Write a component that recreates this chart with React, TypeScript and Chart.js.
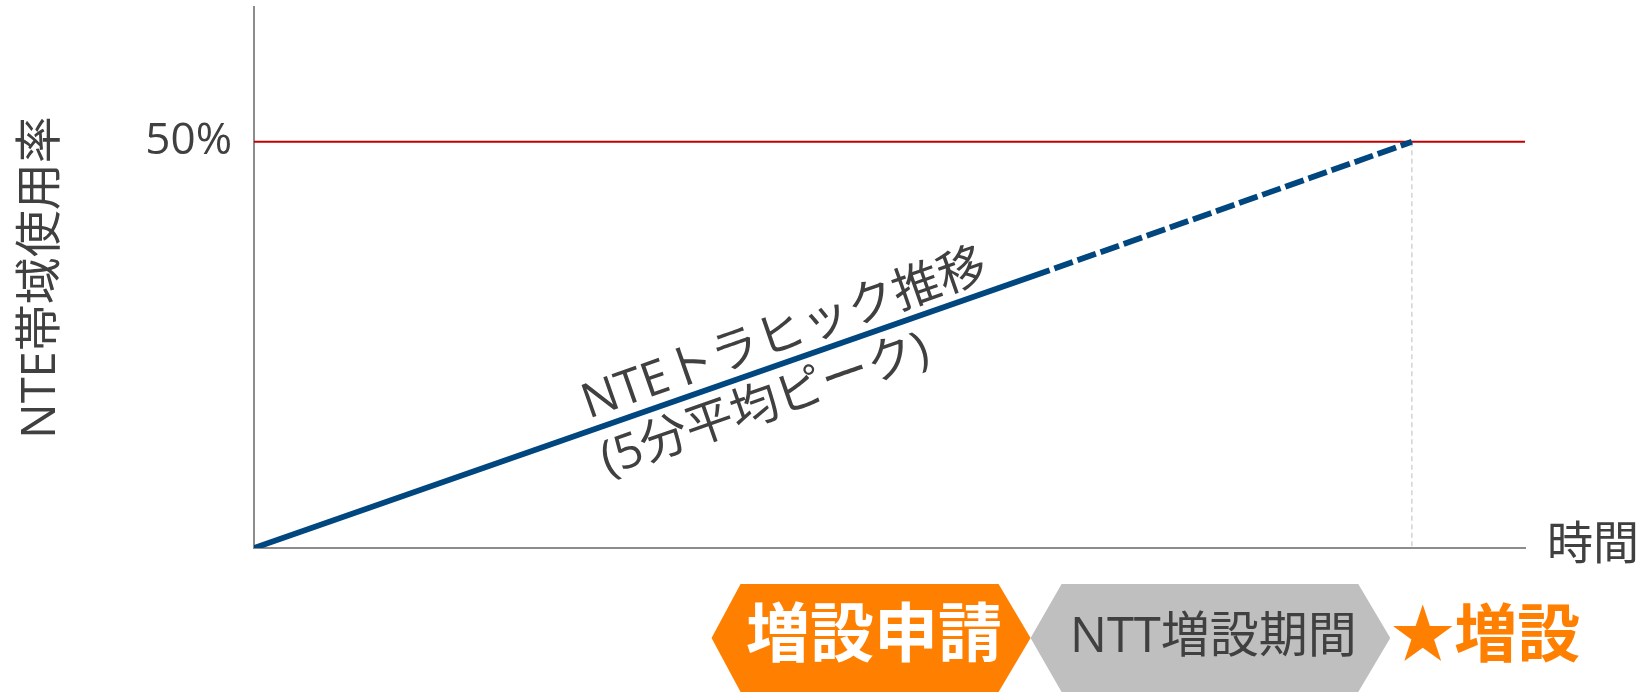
import React, { useEffect, useRef } from 'react';
import { Chart, registerables } from 'chart.js';

Chart.register(...registerables);

// ---- data ----
const timeX = [0, 62.6, 91.1];
const usageActual = [0, 34.2];
const usageForecast = [34.2, 50];
const thresholdValue = 50;
const xRange = [0, 100];
const yMax = 66.6;
const yTicks = [50];
const yTickLabels = ['50%'];
const phaseBounds = [36.0, 61.1, 89.4];
const phaseLabels = ['増設申請', 'NTT増設期間', '★増設'];
const seriesLabel = ['NTEトラヒック推移', '(5分平均ピーク)'];
const seriesLabelAnchors = [42.4, 39.3];
const yTitle = 'NTE帯域使用率';
const xTitle = '時間';

const FONT = '"Open Sans", "Noto Sans CJK JP", sans-serif';
const TEXT = '#404040';
const BLUE = '#00467F';
const ORANGE = '#FF7F00';
const GRAY = '#BFBFBF';

const overlayPlugin = {
  id: 'overlay',
  afterDraw(chart: any) {
    const { ctx } = chart;
    const xs = chart.scales.x;
    const ys = chart.scales.y;
    ctx.save();

    // x title
    ctx.font = `46px ${FONT}`;
    ctx.fillStyle = TEXT;
    ctx.textBaseline = 'middle';
    ctx.textAlign = 'left';
    ctx.fillText(xTitle, xs.right + 22, ys.bottom - 2);

    // series label along the line
    const p0x = xs.getPixelForValue(timeX[0]);
    const p0y = ys.getPixelForValue(usageActual[0]);
    const p1x = xs.getPixelForValue(timeX[2]);
    const p1y = ys.getPixelForValue(usageForecast[1]);
    const ang = Math.atan2(p1y - p0y, p1x - p0x);
    const slope = (p1y - p0y) / (p1x - p0x);
    const offs = [-25, 35];
    ctx.font = `48px ${FONT}`;
    ctx.textAlign = 'center';
    seriesLabel.forEach((t, i) => {
      const ax = xs.getPixelForValue(seriesLabelAnchors[i]);
      const ay = p0y + (ax - p0x) * slope;
      ctx.save();
      ctx.translate(ax, ay);
      ctx.rotate(ang);
      ctx.fillText(t, 0, offs[i]);
      ctx.restore();
    });

    // phase hexagons
    const top = 584;
    const bot = 692;
    const mid = (top + bot) / 2;
    const hex = (l: number, r: number, dl: number, dr: number, color: string) => {
      ctx.beginPath();
      ctx.moveTo(l, mid);
      ctx.lineTo(l + dl, top);
      ctx.lineTo(r - dr, top);
      ctx.lineTo(r, mid);
      ctx.lineTo(r - dr, bot);
      ctx.lineTo(l + dl, bot);
      ctx.closePath();
      ctx.fillStyle = color;
      ctx.fill();
    };
    const b0 = xs.getPixelForValue(phaseBounds[0]);
    const b1 = xs.getPixelForValue(phaseBounds[1]);
    const b2 = xs.getPixelForValue(phaseBounds[2]);
    hex(b0, b1, 29, 32, ORANGE);
    hex(b1, b2, 31, 32, GRAY);

    ctx.textBaseline = 'middle';
    ctx.textAlign = 'center';
    ctx.font = `bold 64px ${FONT}`;
    ctx.fillStyle = '#FFFFFF';
    ctx.fillText(phaseLabels[0], (b0 + b1) / 2 + 3, mid);
    ctx.font = `49px ${FONT}`;
    ctx.fillStyle = TEXT;
    ctx.fillText(phaseLabels[1], (b1 + b2) / 2 + 3, mid);
    ctx.font = `bold 63px ${FONT}`;
    ctx.fillStyle = ORANGE;
    ctx.textAlign = 'left';
    ctx.fillText(phaseLabels[2], b2 + 1, mid);

    ctx.restore();
  },
};

export default function App() {
  const ref = useRef<HTMLCanvasElement | null>(null);

  useEffect(() => {
    if (!ref.current) return;
    const chart = new Chart(ref.current, {
      type: 'line',
      data: {
        datasets: [
          {
            label: 'actual',
            data: usageActual.map((v, i) => ({ x: timeX[i], y: v })),
            borderColor: BLUE,
            borderWidth: 5.8,
            pointRadius: 0,
            order: 1,
          },
          {
            label: 'forecast',
            data: usageForecast.map((v, i) => ({ x: timeX[i + 1], y: v })),
            borderColor: BLUE,
            borderWidth: 5.8,
            borderDash: [19.5, 5],
            borderDashOffset: 19.5,
            pointRadius: 0,
            order: 2,
          },
          {
            label: 'threshold',
            data: xRange.map((x) => ({ x, y: thresholdValue })),
            borderColor: '#C00000',
            borderWidth: 2,
            pointRadius: 0,
            order: 3,
          },
          {
            label: 'drop',
            data: [
              { x: timeX[2], y: thresholdValue },
              { x: timeX[2], y: 0 },
            ],
            borderColor: '#C8C8C8',
            borderWidth: 1.2,
            borderDash: [5, 3.5],
            pointRadius: 0,
            order: 4,
          },
        ],
      },
      options: {
        animation: false,
        responsive: false,
        layout: { padding: { top: 7, right: 116, left: 0, bottom: 0 } },
        plugins: { legend: { display: false }, tooltip: { enabled: false } },
        scales: {
          x: {
            type: 'linear',
            min: xRange[0],
            max: xRange[1],
            grid: { display: false, drawTicks: false },
            border: { display: true, color: '#8C8C8C', width: 2 },
            ticks: { display: false },
            afterFit: (s: any) => {
              s.height = 146;
              s.paddingLeft = 0;
              s.paddingRight = 0;
            },
          },
          y: {
            type: 'linear',
            min: 0,
            max: yMax,
            grid: { display: false, drawTicks: false },
            border: { display: true, color: '#8C8C8C', width: 2 },
            afterBuildTicks: (s: any) => {
              s.ticks = yTicks.map((v) => ({ value: v }));
            },
            ticks: {
              padding: 22,
              color: TEXT,
              font: { size: 44, family: FONT },
              callback: (v: any) => {
                const i = yTicks.indexOf(Number(v));
                return i >= 0 ? yTickLabels[i] : '';
              },
            },
            title: {
              display: true,
              text: yTitle,
              color: TEXT,
              font: { size: 47, family: FONT },
              padding: { top: 13, bottom: 0 },
            },
            afterFit: (s: any) => {
              s.width = 254;
              s.paddingTop = 0;
              s.paddingBottom = 0;
            },
          },
        },
      },
      plugins: [overlayPlugin],
    });
    return () => chart.destroy();
  }, []);

  return (
    <div style={{ position: 'absolute', left: 0, top: 0, width: 1641, height: 694, background: '#fff' }}>
      <canvas ref={ref} width={1641} height={694} style={{ display: 'block' }} />
    </div>
  );
}
